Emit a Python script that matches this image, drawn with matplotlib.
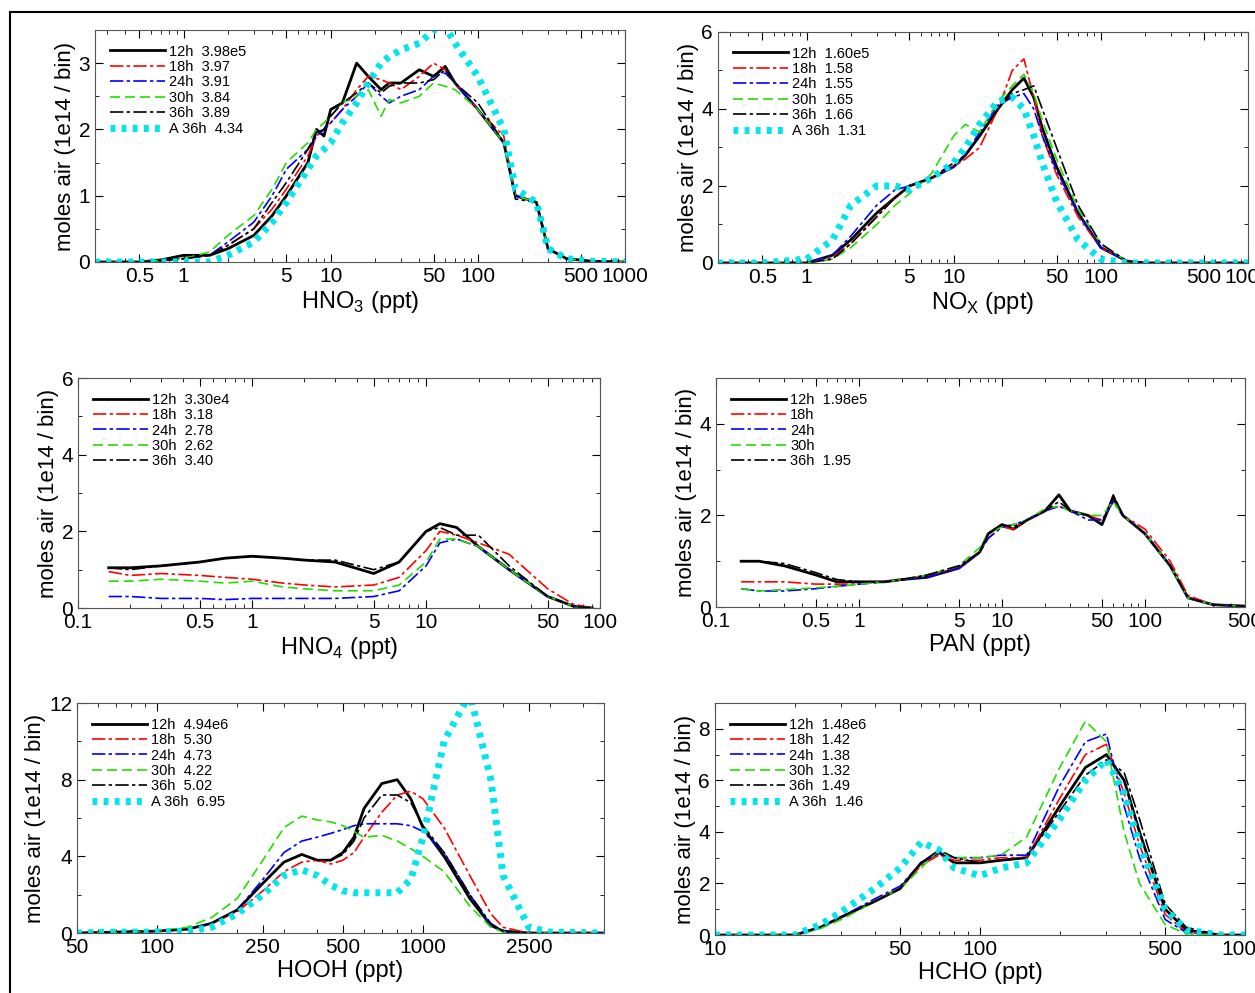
import matplotlib.pyplot as plt
import matplotlib.patches as patches
from matplotlib.ticker import LogLocator, NullFormatter, MultipleLocator

plt.rcParams['font.family'] = ['Liberation Sans', 'DejaVu Sans']
plt.rcParams['mathtext.fontset'] = 'custom'
plt.rcParams['mathtext.rm'] = 'Liberation Sans'

# ---- data ----
hno3_x = [0.25, 0.5, 0.7, 1, 1.5, 2, 3, 4, 5, 7, 8, 9, 10, 12, 15, 18, 22, 25, 30, 40, 50, 60, 70, 100, 150, 180, 250, 300, 400, 600, 1000]
hno3_12 = [0, 0, 0.03, 0.1, 0.1, 0.2, 0.4, 0.7, 1.0, 1.5, 2.0, 1.9, 2.3, 2.4, 3.0, 2.8, 2.6, 2.7, 2.7, 2.9, 2.8, 2.95, 2.7, 2.3, 1.8, 1.0, 0.9, 0.2, 0.05, 0.01, 0]
hno3_18 = [0, 0, 0.02, 0.05, 0.1, 0.25, 0.5, 0.8, 1.1, 1.6, 1.9, 2.0, 2.1, 2.3, 2.6, 2.8, 2.75, 2.7, 2.6, 2.8, 3.0, 2.9, 2.7, 2.3, 1.9, 1.0, 0.9, 0.2, 0.05, 0.01, 0]
hno3_24 = [0, 0, 0.02, 0.05, 0.1, 0.3, 0.6, 1.0, 1.4, 1.7, 1.9, 2.0, 2.1, 2.3, 2.5, 2.7, 2.5, 2.4, 2.5, 2.6, 2.8, 2.85, 2.7, 2.3, 1.8, 1.0, 0.9, 0.2, 0.05, 0.01, 0]
hno3_30 = [0, 0, 0.02, 0.05, 0.15, 0.4, 0.7, 1.1, 1.5, 1.8, 2.0, 2.1, 2.2, 2.4, 2.5, 2.6, 2.2, 2.45, 2.4, 2.5, 2.7, 2.65, 2.6, 2.3, 1.8, 1.0, 0.9, 0.2, 0.05, 0.01, 0]
hno3_36 = [0, 0, 0.02, 0.05, 0.1, 0.25, 0.5, 0.9, 1.2, 1.7, 1.95, 2.0, 2.2, 2.4, 2.55, 2.7, 2.55, 2.65, 2.7, 2.7, 2.75, 2.9, 2.7, 2.4, 1.8, 0.95, 0.9, 0.2, 0.05, 0.01, 0]
hno3_A = [0, 0, 0, 0, 0, 0.1, 0.3, 0.6, 0.9, 1.4, 1.6, 1.7, 1.8, 2.1, 2.4, 2.7, 3.0, 3.1, 3.2, 3.3, 3.5, 3.55, 3.3, 2.8, 2.0, 1.1, 0.9, 0.2, 0.05, 0.01, 0]

nox_x = [0.25, 0.5, 1, 1.5, 2, 3, 4, 5, 7, 10, 12, 15, 20, 25, 30, 35, 40, 50, 70, 100, 150, 200, 500, 1000]
nox_12 = [0, 0, 0, 0.2, 0.6, 1.3, 1.7, 2.0, 2.2, 2.5, 2.8, 3.3, 4.0, 4.5, 4.8, 4.3, 3.5, 2.5, 1.3, 0.4, 0.05, 0, 0, 0]
nox_18 = [0, 0, 0, 0.15, 0.5, 1.2, 1.7, 2.0, 2.2, 2.5, 2.7, 3.0, 4.0, 5.0, 5.3, 4.3, 3.3, 2.3, 1.2, 0.4, 0.05, 0, 0, 0]
nox_24 = [0, 0, 0, 0.2, 0.7, 1.5, 1.9, 2.0, 2.2, 2.5, 2.8, 3.4, 4.1, 4.3, 4.4, 4.0, 3.3, 2.4, 1.3, 0.4, 0.05, 0, 0, 0]
nox_30 = [0, 0, 0, 0.1, 0.4, 1.0, 1.5, 1.8, 2.3, 3.3, 3.6, 3.4, 4.2, 4.6, 4.9, 4.4, 3.7, 2.7, 1.4, 0.5, 0.05, 0, 0, 0]
nox_36 = [0, 0, 0, 0.1, 0.5, 1.2, 1.7, 2.0, 2.2, 2.6, 2.8, 3.3, 4.0, 4.4, 4.5, 4.6, 4.0, 3.0, 1.5, 0.5, 0.05, 0, 0, 0]
nox_A = [0, 0, 0.1, 0.6, 1.5, 2.0, 2.0, 1.9, 2.2, 2.6, 3.0, 3.6, 4.2, 4.3, 4.0, 3.3, 2.6, 1.6, 0.6, 0.1, 0, 0, 0, 0]

hno4_x = [0.15, 0.2, 0.3, 0.5, 0.7, 1, 1.5, 2, 3, 5, 7, 10, 12, 15, 20, 30, 50, 70, 90]
hno4_12 = [1.05, 1.05, 1.1, 1.2, 1.3, 1.35, 1.3, 1.25, 1.2, 0.9, 1.2, 2.0, 2.2, 2.1, 1.6, 1.0, 0.3, 0.05, 0]
hno4_18 = [0.95, 0.85, 0.9, 0.85, 0.8, 0.75, 0.65, 0.6, 0.55, 0.6, 0.8, 1.5, 2.0, 1.9, 1.7, 1.4, 0.5, 0.1, 0]
hno4_24 = [0.3, 0.3, 0.25, 0.25, 0.22, 0.25, 0.25, 0.25, 0.25, 0.3, 0.45, 1.1, 1.7, 1.8, 1.6, 1.0, 0.3, 0.05, 0]
hno4_30 = [0.7, 0.7, 0.75, 0.7, 0.65, 0.7, 0.55, 0.5, 0.45, 0.45, 0.6, 1.2, 1.8, 1.8, 1.6, 1.0, 0.3, 0.05, 0]
hno4_36 = [1.05, 1.0, 1.1, 1.2, 1.3, 1.35, 1.3, 1.25, 1.25, 1.0, 1.2, 2.0, 2.1, 1.9, 1.9, 1.1, 0.3, 0.05, 0]

pan_x = [0.15, 0.2, 0.3, 0.5, 0.7, 1, 1.5, 2, 3, 5, 7, 8, 10, 12, 15, 20, 25, 30, 40, 50, 60, 70, 100, 150, 200, 300, 500]
pan_12 = [1.0, 1.0, 0.9, 0.7, 0.55, 0.55, 0.55, 0.6, 0.65, 0.85, 1.2, 1.6, 1.8, 1.7, 1.9, 2.1, 2.45, 2.1, 2.0, 1.8, 2.4, 2.0, 1.6, 0.9, 0.2, 0.05, 0.02]
pan_18 = [0.55, 0.55, 0.55, 0.5, 0.5, 0.5, 0.55, 0.6, 0.7, 0.85, 1.2, 1.5, 1.75, 1.7, 1.9, 2.1, 2.2, 2.1, 2.0, 1.9, 2.3, 2.0, 1.7, 1.0, 0.25, 0.05, 0.02]
pan_24 = [0.4, 0.35, 0.35, 0.4, 0.45, 0.5, 0.55, 0.6, 0.65, 0.85, 1.2, 1.5, 1.75, 1.8, 1.9, 2.1, 2.2, 2.1, 1.9, 1.9, 2.3, 2.0, 1.6, 0.9, 0.2, 0.05, 0.02]
pan_30 = [0.4, 0.35, 0.38, 0.42, 0.45, 0.5, 0.55, 0.6, 0.7, 0.9, 1.3, 1.6, 1.75, 1.8, 1.9, 2.15, 2.2, 2.1, 2.0, 2.0, 2.3, 2.0, 1.6, 0.9, 0.2, 0.05, 0.02]
pan_36 = [1.0, 1.0, 0.95, 0.75, 0.6, 0.55, 0.55, 0.6, 0.7, 0.9, 1.2, 1.6, 1.8, 1.75, 1.9, 2.1, 2.3, 2.1, 2.0, 1.8, 2.45, 2.0, 1.6, 0.9, 0.2, 0.05, 0.02]

hooh_x = [50, 70, 100, 130, 160, 200, 250, 300, 350, 400, 450, 500, 550, 600, 700, 800, 900, 1000, 1200, 1500, 1800, 2000, 2500, 3000, 4800]
hooh_12 = [0, 0.05, 0.1, 0.2, 0.5, 1.2, 2.6, 3.7, 4.1, 3.8, 3.8, 4.2, 5.0, 6.5, 7.8, 8.0, 7.0, 5.5, 4.0, 1.8, 0.4, 0.1, 0, 0, 0]
hooh_18 = [0, 0.05, 0.1, 0.2, 0.5, 1.1, 2.2, 3.2, 3.7, 3.8, 3.6, 3.8, 4.2, 5.0, 6.3, 7.2, 7.4, 7.0, 5.5, 3.0, 1.0, 0.3, 0, 0, 0]
hooh_24 = [0, 0.05, 0.1, 0.2, 0.5, 1.2, 2.8, 4.2, 4.8, 5.0, 5.2, 5.4, 5.6, 5.7, 5.7, 5.7, 5.6, 5.3, 4.2, 2.0, 0.4, 0.1, 0, 0, 0]
hooh_30 = [0, 0.05, 0.1, 0.3, 0.8, 1.8, 3.8, 5.5, 6.1, 5.9, 5.8, 5.6, 5.3, 5.0, 5.1, 4.8, 4.4, 4.0, 3.2, 1.4, 0.3, 0.05, 0, 0, 0]
hooh_36 = [0, 0.05, 0.1, 0.2, 0.5, 1.2, 2.6, 3.7, 4.1, 3.8, 3.8, 4.1, 4.8, 6.0, 7.2, 7.2, 6.8, 5.6, 4.2, 2.0, 0.5, 0.1, 0, 0, 0]
hooh_A = [0, 0.05, 0.05, 0.1, 0.3, 1.0, 2.0, 3.0, 3.3, 3.0, 2.5, 2.2, 2.1, 2.1, 2.1, 2.1, 2.8, 5.0, 10.0, 12.5, 8.0, 3.0, 0.3, 0.05, 0]

hcho_x = [10, 15, 20, 25, 30, 40, 50, 60, 70, 80, 100, 120, 150, 200, 250, 300, 350, 400, 500, 600, 800, 1000]
hcho_12 = [0, 0, 0, 0.3, 0.7, 1.3, 1.8, 2.8, 3.2, 2.8, 2.8, 2.9, 3.0, 5.0, 6.5, 7.0, 6.0, 4.0, 1.0, 0.2, 0, 0]
hcho_18 = [0, 0, 0, 0.3, 0.7, 1.3, 1.8, 2.7, 3.1, 2.9, 2.9, 3.0, 3.0, 5.3, 7.0, 7.4, 5.5, 3.5, 0.8, 0.1, 0, 0]
hcho_24 = [0, 0, 0, 0.3, 0.7, 1.4, 1.9, 2.8, 3.2, 3.0, 3.0, 3.1, 3.1, 5.8, 7.5, 7.8, 5.0, 3.0, 0.6, 0.1, 0, 0]
hcho_30 = [0, 0, 0, 0.25, 0.6, 1.3, 1.8, 2.6, 3.3, 3.0, 3.0, 3.1, 3.8, 6.5, 8.3, 7.5, 4.0, 2.0, 0.4, 0.05, 0, 0]
hcho_36 = [0, 0, 0, 0.3, 0.7, 1.3, 1.8, 2.8, 3.3, 3.0, 2.8, 2.9, 3.0, 4.8, 6.2, 6.8, 6.3, 4.5, 1.2, 0.3, 0, 0]
hcho_A = [0, 0, 0, 0.4, 0.9, 1.8, 2.6, 3.6, 3.3, 2.6, 2.3, 2.6, 2.8, 4.5, 6.0, 6.8, 5.5, 3.5, 1.0, 0.2, 0, 0]

hours = ["12h", "18h", "24h", "30h", "36h", "A 36h"]
hno3_tot = ["3.98e5", "3.97", "3.91", "3.84", "3.89", "4.34"]
nox_tot = ["1.60e5", "1.58", "1.55", "1.65", "1.66", "1.31"]
hno4_tot = ["3.30e4", "3.18", "2.78", "2.62", "3.40"]
pan_tot = ["1.98e5", "", "", "", "1.95"]
hooh_tot = ["4.94e6", "5.30", "4.73", "4.22", "5.02", "6.95"]
hcho_tot = ["1.48e6", "1.42", "1.38", "1.32", "1.49", "1.46"]

styles = [
    dict(color="black", lw=2.0, ls="-"),
    dict(color="red", lw=1.2, ls=(0, (8, 2, 2, 2))),
    dict(color="blue", lw=1.2, ls=(0, (8, 2, 2, 2))),
    dict(color="#22dd00", lw=1.2, ls=(0, (6, 3))),
    dict(color="black", lw=1.2, ls=(0, (8, 2, 2, 2))),
    dict(color="#00e5ee", lw=5, ls=(0, (0.7, 0.9))),
]

fig = plt.figure(figsize=(12.55, 9.93), dpi=100)
fig.patches.append(patches.Rectangle((0.008, -0.01), 1.1, 0.998, transform=fig.transFigure,
                                     fill=False, lw=1.5, color="black"))


def panel(rect, x, series, totals, xlim, ylim, xticks, xticklabels, ymaj, ymin, xlabel):
    ax = fig.add_axes(rect)
    for i, y in enumerate(series):
        lab = hours[i] + "  " + totals[i] if totals[i] else hours[i]
        ax.plot(x, y, label=lab, **styles[i])
    ax.set_xscale("log")
    ax.set_xlim(*xlim)
    ax.set_ylim(*ylim)
    ax.set_xticks(xticks)
    ax.set_xticklabels(xticklabels)
    ax.xaxis.set_minor_locator(LogLocator(subs=range(2, 10), numticks=20))
    ax.xaxis.set_minor_formatter(NullFormatter())
    ax.yaxis.set_major_locator(MultipleLocator(ymaj))
    ax.yaxis.set_minor_locator(MultipleLocator(ymin))
    ax.tick_params(which="both", direction="in", top=True, right=True, labelsize=15)
    ax.tick_params(which="major", length=6)
    ax.tick_params(which="minor", length=3)
    for s in ax.spines.values():
        s.set_color("#555555")
    ax.set_xlabel(xlabel, fontsize=17, labelpad=2)
    ax.set_ylabel("moles air (1e14 / bin)", fontsize=16, labelpad=2)
    ax.legend(loc="upper left", frameon=False, fontsize=10.5, handlelength=3.8,
              labelspacing=0.1, borderaxespad=0.6, handletextpad=0.3)
    return ax


panel([0.0757, 0.7362, 0.4223, 0.2336], hno3_x,
      [hno3_12, hno3_18, hno3_24, hno3_30, hno3_36, hno3_A], hno3_tot,
      (0.25, 1000), (0, 3.5), [0.5, 1, 5, 10, 50, 100, 500, 1000],
      ["0.5", "1", "5", "10", "50", "100", "500", "1000"], 1, 0.5, r"HNO$_\mathrm{3}$ (ppt)")
panel([0.5721, 0.7352, 0.4223, 0.2326], nox_x,
      [nox_12, nox_18, nox_24, nox_30, nox_36, nox_A], nox_tot,
      (0.25, 1000), (0, 6), [0.5, 1, 5, 10, 50, 100, 500, 1000],
      ["0.5", "1", "5", "10", "50", "100", "500", "1000"], 2, 1, r"NO$_\mathrm{X}$ (ppt)")
panel([0.0622, 0.3877, 0.416, 0.2316], hno4_x,
      [hno4_12, hno4_18, hno4_24, hno4_30, hno4_36], hno4_tot,
      (0.1, 100), (0, 6), [0.1, 0.5, 1, 5, 10, 50, 100],
      ["0.1", "0.5", "1", "5", "10", "50", "100"], 2, 1, r"HNO$_\mathrm{4}$ (ppt)")
panel([0.5705, 0.3887, 0.4215, 0.2306], pan_x,
      [pan_12, pan_18, pan_24, pan_30, pan_36], pan_tot,
      (0.1, 500), (0, 5), [0.1, 0.5, 1, 5, 10, 50, 100, 500],
      ["0.1", "0.5", "1", "5", "10", "50", "100", "500"], 2, 1, "PAN (ppt)")
panel([0.0614, 0.0604, 0.42, 0.2316], hooh_x,
      [hooh_12, hooh_18, hooh_24, hooh_30, hooh_36, hooh_A], hooh_tot,
      (53, 4800), (0, 12), [50, 100, 250, 500, 1000, 2500],
      ["50", "100", "250", "500", "1000", "2500"], 4, 2, "HOOH (ppt)")
panel([0.5697, 0.0584, 0.4223, 0.2336], hcho_x,
      [hcho_12, hcho_18, hcho_24, hcho_30, hcho_36, hcho_A], hcho_tot,
      (10, 1000), (0, 9), [10, 50, 100, 500, 1000],
      ["10", "50", "100", "500", "1000"], 2, 1, "HCHO (ppt)")

fig.savefig("out.png", dpi=100)
